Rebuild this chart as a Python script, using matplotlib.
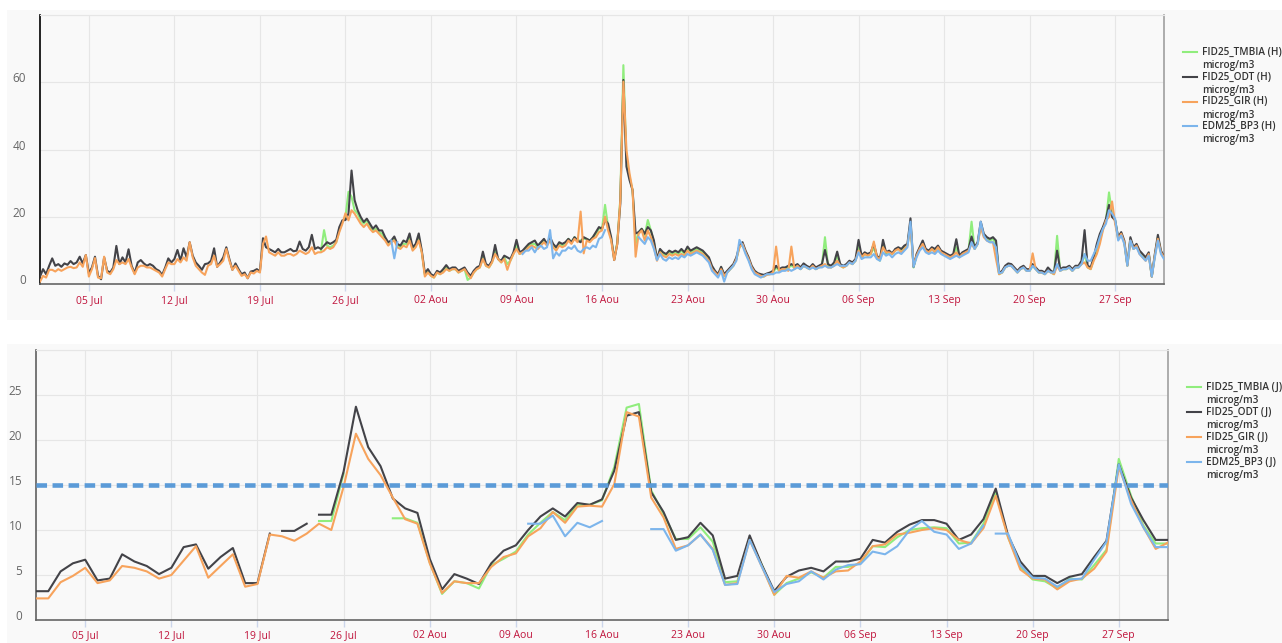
import numpy as np
import pandas as pd
import matplotlib
matplotlib.use('Agg')
import matplotlib.pyplot as plt
import matplotlib.dates as mdates
import matplotlib.transforms as mtransforms
from matplotlib.lines import Line2D
from matplotlib.patches import Rectangle

plt.rcParams['font.family'] = ['Open Sans', 'DejaVu Sans']

# --- axis labels -----------------------------------------------------------
tick_labels = ['05 Jul', '12 Jul', '19 Jul', '26 Jul', '02 Aou', '09 Aou', '16 Aou',
               '23 Aou', '30 Aou', '06 Sep', '13 Sep', '20 Sep', '27 Sep']
names_h = ['FID25_TMBIA (H)', 'FID25_ODT (H)', 'FID25_GIR (H)', 'EDM25_BP3 (H)']
names_j = ['FID25_TMBIA (J)', 'FID25_ODT (J)', 'FID25_GIR (J)', 'EDM25_BP3 (J)']
unit = 'microg/m3'
seuil = 15

# --- 6-hourly values (00h, 06h, 12h, 18h per day), 1 Jul -> 1 Oct ----------
odt_h = [
    2.3, 4.5, 3.0, 5.5,  7.7, 5.5, 6.0, 5.2,  6.2, 5.8, 6.9, 6.0,  6.5, 8.2, 6.2, 8.7,
    3.3, 5.0, 8.2, 2.5,  1.5, 8.0, 4.0, 3.5,  5.0, 11.4, 6.0, 8.0,  6.5, 10.4, 5.5, 3.3,
    6.5, 7.2, 6.2, 5.5,  6.0, 5.5, 4.5, 4.0,  2.8, 5.0, 7.7, 6.5,  7.5, 10.2, 7.0, 10.7,
    8.0, 12.5, 8.5, 6.5,  5.5, 4.3, 6.0, 6.2,  7.0, 10.7, 5.2, 6.5,  8.0, 11.0, 7.5, 4.3,
    6.2, 4.5, 3.0, 3.5,  1.8, 3.8, 4.0, 4.5,  3.8, 13.7, 11.0, 10.5,  10.0, 9.5, 10.5, 9.5,
    9.5, 10.0, 10.5, 9.8,  10.0, 12.7, 10.5, 10.0,  11.0, 14.7, 10.5, 11.0,  10.5, 11.5, 12.5, 12.0,
    12.5, 13.2, 17.0, 19.0,  19.1, 21.0, 33.8, 25.0,  22.0, 20.0, 18.5, 19.5,  18.0, 16.5, 17.5, 16.0,
    16.0, 14.0, 12.5, 13.0,  14.2, 12.0, 11.5, 13.0,  12.5, 15.1, 11.0, 12.0,  15.1, 10.0, 3.3, 4.5,
    3.0, 2.5, 4.0, 3.5,  4.5, 5.7, 4.5, 5.0,  5.0, 4.0, 4.5, 5.0,  3.5, 2.5, 4.0, 5.0,
    5.5, 9.7, 6.0, 5.5,  7.0, 11.7, 7.5, 7.0,  8.5, 8.0, 7.5, 9.5,  13.2, 9.5, 10.0, 11.0,
    12.0, 12.5, 13.0, 11.5,  12.5, 13.5, 12.0, 14.0,  12.0, 11.0, 12.5, 12.0,  12.5, 13.5, 12.5, 14.0,
    13.0, 12.5, 14.0, 13.5,  13.0, 14.0, 15.5, 17.0,  16.5, 19.1, 18.0, 14.0,  7.2, 12.0, 24.0, 60.7,
    35.0, 31.0, 28.0, 15.1,  15.5, 16.5, 15.0, 17.0,  16.0, 13.0, 7.5, 10.5,  9.5, 9.0, 10.0, 9.5,
    10.0, 9.5, 10.5, 9.5,  11.2, 10.0, 10.5, 11.0,  10.5, 10.0, 9.0, 8.0,  5.5, 4.0, 3.0, 5.2,
    3.0, 4.0, 5.0, 6.0,  8.0, 11.5, 12.5, 10.0,  8.0, 5.5, 4.0, 3.3,  3.0, 2.8, 3.2, 3.5,
    4.0, 5.5, 4.5, 5.0,  5.0, 5.5, 6.0, 5.5,  6.0, 5.0, 6.2, 5.5,  5.0, 6.0, 5.0, 5.5,
    6.0, 10.2, 6.0, 5.5,  6.5, 9.7, 6.0, 5.5,  6.0, 7.0, 6.5, 7.5,  13.2, 8.5, 9.5, 9.0,
    9.5, 12.0, 8.5, 7.5,  13.2, 9.5, 10.0, 9.2,  10.5, 11.0, 10.5, 11.5,  12.0, 19.6, 5.2, 9.0,
    11.0, 13.0, 10.5, 10.0,  11.0, 10.5, 11.5, 10.0,  9.5, 9.0, 8.5, 9.0,  13.4, 8.5, 9.5, 10.0,
    10.5, 14.2, 11.0, 12.5,  18.6, 15.0, 14.0, 13.5,  14.0, 13.0, 3.3, 4.0,  5.5, 6.2, 6.0, 5.0,
    4.0, 5.0, 5.5, 4.5,  4.5, 6.0, 5.0, 4.0,  4.0, 3.5, 5.0, 4.0,  3.5, 10.0, 4.5, 5.0,
    5.0, 5.5, 4.5, 5.5,  5.5, 7.0, 16.1, 5.5,  5.0, 8.0, 12.0, 15.0,  17.0, 19.5, 23.6, 20.0,
    19.0, 14.0, 15.5, 13.0,  5.7, 14.0, 11.0, 12.0,  10.0, 9.0, 8.0, 9.5,  2.3, 9.0, 14.7, 10.0,
    8.2,
]
gir_h = [
    0.8, 2.5, 2.0, 4.3,  4.3, 3.8, 4.5, 4.0,  4.5, 5.0, 5.2, 4.8,  5.0, 6.5, 5.2, 8.7,
    2.3, 4.5, 7.8, 2.0,  1.8, 8.2, 3.5, 3.0,  4.5, 7.2, 6.0, 6.5,  6.0, 7.5, 5.0, 3.0,
    5.0, 5.5, 5.5, 5.0,  5.0, 4.5, 4.0, 3.5,  2.3, 4.5, 6.5, 6.0,  6.0, 7.5, 6.5, 8.0,
    7.0, 12.5, 8.0, 5.5,  4.5, 3.5, 2.8, 5.5,  6.0, 8.5, 5.2, 6.0,  7.0, 10.5, 7.0, 4.3,
    5.5, 4.0, 2.5, 3.0,  1.8, 3.5, 3.2, 4.0,  3.5, 12.0, 14.2, 9.5,  9.0, 8.5, 9.5, 8.5,
    8.5, 9.0, 9.0, 8.5,  9.0, 10.0, 9.5, 9.0,  9.5, 11.0, 9.0, 9.5,  9.5, 10.0, 11.0, 10.5,
    11.0, 12.5, 15.5, 18.0,  21.1, 19.0, 22.0, 21.0,  19.5, 18.0, 17.0, 18.0,  16.5, 15.5, 16.0, 15.0,
    14.0, 13.0, 11.5, 12.5,  13.0, 11.0, 10.5, 11.5,  11.0, 13.0, 10.0, 11.0,  13.0, 9.5, 2.3, 3.5,
    2.5, 2.0, 3.5, 3.0,  3.5, 4.5, 4.0, 4.5,  4.5, 3.5, 4.0, 4.5,  3.0, 1.8, 3.5, 4.5,
    5.0, 7.5, 5.5, 5.0,  6.5, 9.0, 7.5, 6.5,  7.5, 4.3, 7.0, 9.0,  10.5, 9.0, 9.5, 10.0,
    11.0, 11.5, 11.0, 10.5,  11.5, 12.5, 11.5, 13.0,  11.0, 10.0, 11.5, 11.0,  11.5, 13.0, 12.0, 13.5,
    12.5, 21.6, 9.2, 13.0,  12.5, 13.5, 14.0, 15.5,  16.0, 20.1, 16.0, 13.0,  7.2, 12.0, 25.0, 60.2,
    40.0, 33.0, 28.0, 8.2,  15.0, 16.0, 13.0, 16.0,  14.0, 11.0, 7.0, 9.5,  8.5, 8.0, 9.0, 8.5,
    9.0, 8.5, 9.0, 8.5,  10.0, 9.0, 9.5, 10.0,  9.5, 9.0, 8.0, 7.0,  4.5, 3.5, 2.5, 4.5,
    2.5, 3.5, 4.5, 5.5,  7.5, 11.0, 12.0, 9.5,  7.5, 5.0, 3.5, 3.0,  2.5, 2.3, 2.8, 3.0,
    3.5, 11.2, 4.0, 4.5,  4.5, 4.0, 11.2, 4.5,  5.5, 4.5, 5.5, 5.0,  4.5, 5.5, 4.5, 5.0,
    5.5, 6.0, 5.0, 5.0,  5.5, 7.0, 5.5, 5.0,  5.5, 6.5, 6.0, 7.0,  10.0, 8.0, 9.0, 8.5,
    9.0, 12.7, 8.0, 7.5,  11.0, 9.5, 9.5, 9.0,  10.0, 10.5, 9.5, 10.5,  11.5, 17.0, 5.5, 8.5,
    10.5, 12.0, 10.0, 9.5,  10.5, 9.5, 11.0, 9.5,  9.0, 8.5, 8.0, 8.5,  9.5, 8.0, 9.0, 9.5,
    10.0, 12.0, 10.5, 12.0,  17.0, 14.0, 13.0, 12.5,  12.5, 7.5, 3.0, 3.5,  5.0, 5.5, 5.5, 4.5,
    3.5, 4.5, 5.0, 4.0,  4.0, 9.2, 4.5, 3.5,  3.5, 3.0, 4.0, 3.5,  3.0, 5.5, 4.0, 4.5,
    4.5, 5.0, 4.0, 5.0,  5.0, 6.0, 6.5, 5.0,  4.5, 7.0, 9.0, 12.0,  16.0, 19.0, 20.0, 24.6,
    18.0, 13.5, 15.0, 12.5,  5.5, 13.0, 10.5, 11.5,  9.0, 8.0, 7.0, 9.0,  2.3, 8.5, 13.5, 9.5,
    8.0,
]
tmbia_h = [None] * 92 + [
    10.0, 16.1, 11.5, 11.0,  11.5, 12.5, 16.0, 18.5,  20.0, 27.5, 26.0, 22.0,  21.0, 19.0, 18.0, 19.0,
    17.0, 16.0, 16.5, 15.5,  15.0, 13.5, 12.0, 12.5,  13.5, 11.5, 11.0, 12.0,  12.0, 14.0, 10.5, 11.5,
    14.0, 9.5, 2.8, 4.0,  2.5, 2.0, 3.5, 3.0,  4.0, 5.0, 4.0, 4.5,  4.5, 3.5, 4.0, 4.5,
    1.3, 2.0, 3.5, 4.5,  5.0, 8.0, 5.5, 5.0,  6.5, 10.0, 7.5, 6.5,  8.0, 6.0, 7.0, 9.0,
    11.5, 9.0, 9.5, 10.5,  11.5, 12.0, 12.0, 11.0,  12.0, 13.0, 12.0, 13.5,  11.5, 10.5, 12.0, 11.5,
    12.0, 13.5, 12.5, 14.0,  13.0, 13.0, 13.5, 13.5,  13.0, 14.0, 15.0, 16.5,  16.5, 23.6, 17.0, 13.5,
    7.5, 12.5, 25.5, 65.1,  36.9, 32.0, 28.0, 12.0,  15.5, 16.5, 14.5, 19.1,  16.0, 12.5, 7.5, 10.0,
    9.0, 8.5, 9.5, 9.0,  9.5, 9.0, 10.0, 9.0,  10.5, 9.5, 10.0, 10.5,  10.0, 9.5, 8.5, 7.5,
    5.0, 3.5, 2.5, 5.0,  2.5, 3.5, 4.5, 5.5,  7.5, 11.0, 12.0, 9.5,  7.5, 5.0, 3.5, 3.0,
    2.5, 2.3, 3.0, 3.0,  3.5, 5.0, 4.0, 4.5,  4.5, 5.0, 5.5, 5.0,  5.5, 4.5, 5.5, 5.0,
    4.5, 5.5, 4.5, 5.0,  5.5, 14.0, 5.5, 5.0,  6.0, 8.5, 5.5, 5.0,  5.5, 6.5, 6.0, 7.0,
    11.0, 8.0, 9.0, 8.5,  9.0, 11.0, 8.0, 7.0,  12.0, 9.0, 9.5, 9.0,  10.0, 10.5, 10.0, 11.0,
    11.5, 18.0, 5.0, 8.5,  10.5, 12.5, 10.0, 9.5,  10.5, 10.0, 11.0, 9.5,  9.0, 8.5, 8.0, 8.5,
    11.0, 8.0, 9.0, 9.5,  10.0, 18.6, 10.5, 12.0,  17.5, 14.5, 13.5, 13.0,  13.5, 12.0, 3.0, 3.5,
    5.0, 5.5, 5.5, 4.5,  3.5, 4.5, 5.0, 4.0,  4.0, 5.5, 4.5, 3.5,  3.5, 3.0, 4.0, 3.5,
    3.0, 14.4, 4.0, 4.5,  4.5, 5.0, 4.0, 5.0,  5.0, 6.0, 9.0, 5.0,  4.5, 7.5, 9.5, 13.0,
    16.5, 19.0, 27.3, 21.0,  19.0, 13.5, 15.0, 12.5,  5.5, 13.5, 10.5, 11.5,  9.5, 8.5, 7.5, 9.0,
    2.3, 8.5, 14.0, 9.5,
    8.0,
]
bp3_h = [None] * 112 + [None, None, None, 13.0, 7.7, 12.5, None, None] + [None] * 36 + [
    None, None, 9.0, 10.0,  10.0, 11.0, 9.5, 11.0,  11.5, 10.5, 11.0, 16.1,  7.7, 9.5, 8.5, 10.0,
    10.0, 11.0, 10.5, 11.5,  10.0, 9.5, 10.5, 11.0,  10.5, 11.5, 11.0, 13.5,  14.0, 16.1, None, None,
    None, None, None, None,  None, None, None, None,  14.0, 13.0, 12.0, 14.0,  13.0, 10.5, 7.2, 9.0,
    7.5, 7.0, 8.0, 7.5,  8.0, 7.5, 8.5, 8.0,  9.0, 8.5, 9.0, 9.5,  9.0, 8.5, 7.5, 6.5,
    4.0, 3.0, 2.0, 4.0,  0.8, 3.5, 4.5, 5.5,  7.0, 13.2, 11.5, 9.0,  7.0, 4.5, 3.0, 2.5,
    2.0, 2.5, 3.0, 3.0,  3.0, 3.5, 3.5, 4.0,  4.0, 4.5, 4.0, 4.5,  5.0, 4.5, 5.5, 5.0,
    4.5, 5.0, 4.5, 5.0,  5.0, 5.5, 5.0, 5.0,  5.5, 6.0, 5.5, 5.5,  5.5, 6.5, 6.0, 7.0,
    9.5, 7.5, 8.0, 8.0,  8.0, 9.0, 7.5, 7.0,  9.5, 8.5, 9.0, 8.0,  9.0, 9.5, 9.0, 10.0,
    11.0, 18.6, 5.2, 8.0,  10.0, 11.0, 9.5, 9.0,  9.5, 9.0, 10.0, 9.0,  8.5, 8.0, 7.5, 8.0,
    8.5, 8.0, 8.5, 9.0,  9.5, 12.5, 10.5, 12.0,  18.6, 14.5, 13.0, 12.5,  12.5, 11.0, 3.3, 3.5,
    5.0, 5.5, 5.5, 4.5,  3.5, 4.5, 5.0, 4.0,  4.0, 5.5, 4.5, 3.5,  3.5, 3.0, 4.0, 3.5,
    3.5, 6.0, 4.0, 4.5,  4.5, 5.0, 4.0, 5.0,  5.0, 6.0, 9.0, 7.0,  7.0, 9.0, 11.0, 14.0,
    16.5, 18.0, 22.0, 21.0,  19.5, 13.0, 14.5, 12.0,  5.5, 13.0, 10.5, 11.0,  9.0, 8.0, 7.0, 8.5,
    2.3, 8.0, 13.0, 9.0,
    7.5,
]

# --- daily means, 1 Jul -> 1 Oct ------------------------------------------
odt_j = [3.2, 3.2, 5.4, 6.3, 6.7, 4.4, 4.6, 7.3, 6.5, 6.0,
         5.1, 5.8, 8.1, 8.4, 5.7, 7.0, 8.0, 4.1, 4.1, 9.6,
         9.9, 9.9, 10.7, 11.7, 11.7, 16.5, 23.7, 19.2, 17.1, 13.5,
         12.4, 11.9, 6.8, 3.4, 5.1, 4.6, 4.0, 6.3, 7.7, 8.3,
         10.0, 11.5, 12.4, 11.5, 13.0, 12.8, 13.4, 16.6, 22.7, 23.1,
         14.2, 12.0, 8.9, 9.2, 10.8, 9.4, 4.6, 4.9, 9.4, 6.1,
         3.2, 4.8, 5.5, 5.8, 5.4, 6.5, 6.5, 6.8, 8.9, 8.6,
         9.8, 10.6, 11.1, 11.1, 10.7, 8.9, 9.5, 11.2, 14.6, 9.4,
         6.5, 4.9, 4.9, 4.1, 4.8, 5.1, 7.0, 8.8, 17.3, 13.6,
         11.1, 8.9, 8.9]
gir_j = [2.4, 2.4, 4.2, 4.9, 5.8, 4.1, 4.4, 6.0, 5.8, 5.4,
         4.6, 5.0, 6.6, 8.2, 4.7, 6.0, 7.3, 3.7, 4.0, 9.5,
         9.3, 8.8, 9.6, 10.7, 10.0, 14.8, 20.7, 17.9, 16.1, 13.6,
         11.2, 10.7, 6.3, 3.0, 4.3, 4.1, 4.1, 5.9, 7.0, 7.4,
         9.3, 10.2, 12.0, 10.8, 12.6, 12.7, 12.6, 15.1, 23.1, 22.6,
         13.6, 11.4, 7.9, 8.3, 9.5, 7.9, 3.9, 4.1, 8.9, 5.9,
         2.8, 4.9, 4.7, 5.4, 4.7, 5.4, 5.5, 6.5, 8.2, 8.4,
         9.5, 9.7, 10.0, 10.2, 10.0, 8.9, 8.5, 10.2, 13.8, 9.2,
         5.6, 4.6, 4.5, 3.4, 4.3, 4.6, 5.7, 7.6, 17.0, 13.3,
         10.3, 7.9, 8.6]
tmbia_j = [None] * 23 + [11.0, 11.0, 16.3, None, None, None, 11.3,
           11.3, 10.8, 6.4, 2.9, 4.3, 4.1, 3.5, 6.1, 6.8, 7.6,
           9.5, 10.8, 12.0, 11.1, 12.8, 12.8, 13.3, 17.0, 23.6, 24.0,
           14.4, 11.8, 9.0, 9.0, 10.3, 8.7, 4.2, 4.3, 9.0, 6.1,
           2.8, 4.1, 4.6, 5.3, 4.7, 5.9, 5.9, 6.3, 8.2, 8.1,
           9.2, 10.0, 10.2, 10.3, 10.2, 8.5, 8.6, 10.7, 14.2, 9.2,
           5.9, 4.5, 4.3, 3.5, 4.6, 4.5, 6.1, 7.8, 17.9, 13.8,
           10.5, 8.5, 8.5]
bp3_j = [None] * 40 + [10.7, 10.7, 11.6, 9.3, 10.8, 10.3, 11.0, None, None, None,
         10.1, 10.1, 7.7, 8.3, 9.5, 7.8, 3.9, 4.0, 8.9, 5.9,
         3.1, 4.0, 4.3, 5.4, 4.5, 5.6, 6.1, 6.2, 7.6, 7.3,
         8.2, 10.0, 11.0, 9.8, 9.5, 7.9, 8.5, 10.5, 9.6, 9.6,
         6.1, 4.7, 4.6, 3.7, 4.5, 4.6, 6.7, 8.7, 17.3, 12.9,
         10.3, 8.1, 8.1]
# line is interrupted between day i and i+1
odt_j_breaks = [19, 22]
bp3_j_breaks = [77]

colors = ['#90ed7d', '#434348', '#f7a35c', '#7cb5ec']


def arr(v):
    return np.array([np.nan if a is None else a for a in v], dtype=float)


def with_breaks(x, y, breaks):
    x = list(x)
    y = list(arr(y))
    for i in sorted(breaks, reverse=True):
        x.insert(i + 1, (x[i] + x[i + 1]) / 2)
        y.insert(i + 1, np.nan)
    return np.array(x), np.array(y)


W, H = 1282, 643
fig = plt.figure(figsize=(W / 100, H / 100), dpi=100)
fig.patch.set_facecolor('white')


def fx(px):
    return px / W


def fy(py):
    return 1 - py / H


bg = '#f9f9f9'
fig.add_artist(Rectangle((fx(7), fy(320)), 1 - fx(7), 310 / H, transform=fig.transFigure,
                         facecolor=bg, edgecolor='none', zorder=-5))
fig.add_artist(Rectangle((fx(7), 0), 1 - fx(7), 299 / H, transform=fig.transFigure,
                         facecolor=bg, edgecolor='none', zorder=-5))

ax1 = fig.add_axes([fx(40), fy(284.3), (1164 - 40) / W, (284.3 - 15) / H])
ax2 = fig.add_axes([fx(36), fy(620), (1168 - 36) / W, (620 - 350) / H])

t_h = mdates.date2num(pd.date_range('2021-07-01', periods=len(odt_h), freq='6h').to_pydatetime())
t_j = mdates.date2num(pd.date_range('2021-07-01', periods=len(odt_j), freq='D').to_pydatetime())
ticks = mdates.date2num(pd.date_range('2021-07-05', periods=len(tick_labels), freq='7D').to_pydatetime())
x0 = mdates.date2num(pd.Timestamp('2021-07-01').to_pydatetime())
x1 = mdates.date2num(pd.Timestamp('2021-10-01').to_pydatetime())

for i, ser in enumerate([tmbia_h, odt_h, gir_h, bp3_h]):
    ax1.plot(t_h, arr(ser), color=colors[i], lw=1.5, zorder=3 + i, solid_joinstyle='round')

daily = [(tmbia_j, []), (odt_j, odt_j_breaks), (gir_j, []), (bp3_j, bp3_j_breaks)]
for i, (ser, brk) in enumerate(daily):
    xx, yy = with_breaks(t_j, ser, brk)
    ax2.plot(xx, yy, color=colors[i], lw=1.5, zorder=3 + i, solid_joinstyle='round')
ax2.axhline(seuil, color='#5b9bd8', lw=3.3, dashes=(2.3, 1.2), dash_capstyle='butt', zorder=8)

ax1.set_ylim(0, 80)
ax1.set_yticks([0, 20, 40, 60, 80])
ax1.set_yticklabels(['0', '20', '40', '60', ''])
ax2.set_ylim(0, 30)
ax2.set_yticks([0, 5, 10, 15, 20, 25, 30])
ax2.set_yticklabels(['0', '5', '10', '15', '20', '25', ''])

off = mtransforms.ScaledTranslation(0, 5 / 100, fig.dpi_scale_trans)
for ax, lc in [(ax1, '#000000'), (ax2, '#606060')]:
    ax.set_facecolor(bg)
    ax.set_xlim(x0, x1)
    ax.set_xticks(ticks)
    ax.set_xticklabels(tick_labels)
    ax.grid(True, color='#e6e6e6', lw=0.8)
    ax.set_axisbelow(True)
    ax.tick_params(axis='x', direction='out', length=5, width=1, color='#ccd6eb',
                   labelcolor='#c0143c', labelsize=7.5, pad=2.5)
    ax.tick_params(axis='y', length=0, labelcolor='#666666', labelsize=8.5, pad=10)
    for lbl in ax.get_yticklabels():
        lbl.set_transform(lbl.get_transform() + off)
    ax.spines['left'].set_color(lc)
    ax.spines['left'].set_linewidth(1.2)
    ax.spines['bottom'].set_color('#666666')
    ax.spines['bottom'].set_linewidth(1.2)
    ax.spines['right'].set_color('#a0a0a0')
    ax.spines['right'].set_linewidth(1.2)
    ax.spines['top'].set_color('#e6e6e6')
    ax.spines['top'].set_linewidth(0.8)


def legend(names, xh, xt, ytop, step):
    for i, name in enumerate(names):
        y = ytop + step * i
        fig.add_artist(Line2D([fx(xh), fx(xh + 14)], [fy(y), fy(y)], transform=fig.transFigure,
                              color=colors[i], lw=1.5))
        fig.text(fx(xt), fy(y), name, va='center', ha='left', fontsize=7.2,
                 fontweight='semibold', color='#333333')
        fig.text(fx(xt), fy(y + 13.5), unit, va='center', ha='left', fontsize=7.2,
                 fontweight='semibold', color='#333333')


legend(names_h, 1183, 1202, 52.3, 24.7)
legend(names_j, 1187, 1206, 387.3, 24.9)

fig.savefig('out.png', dpi=100)
